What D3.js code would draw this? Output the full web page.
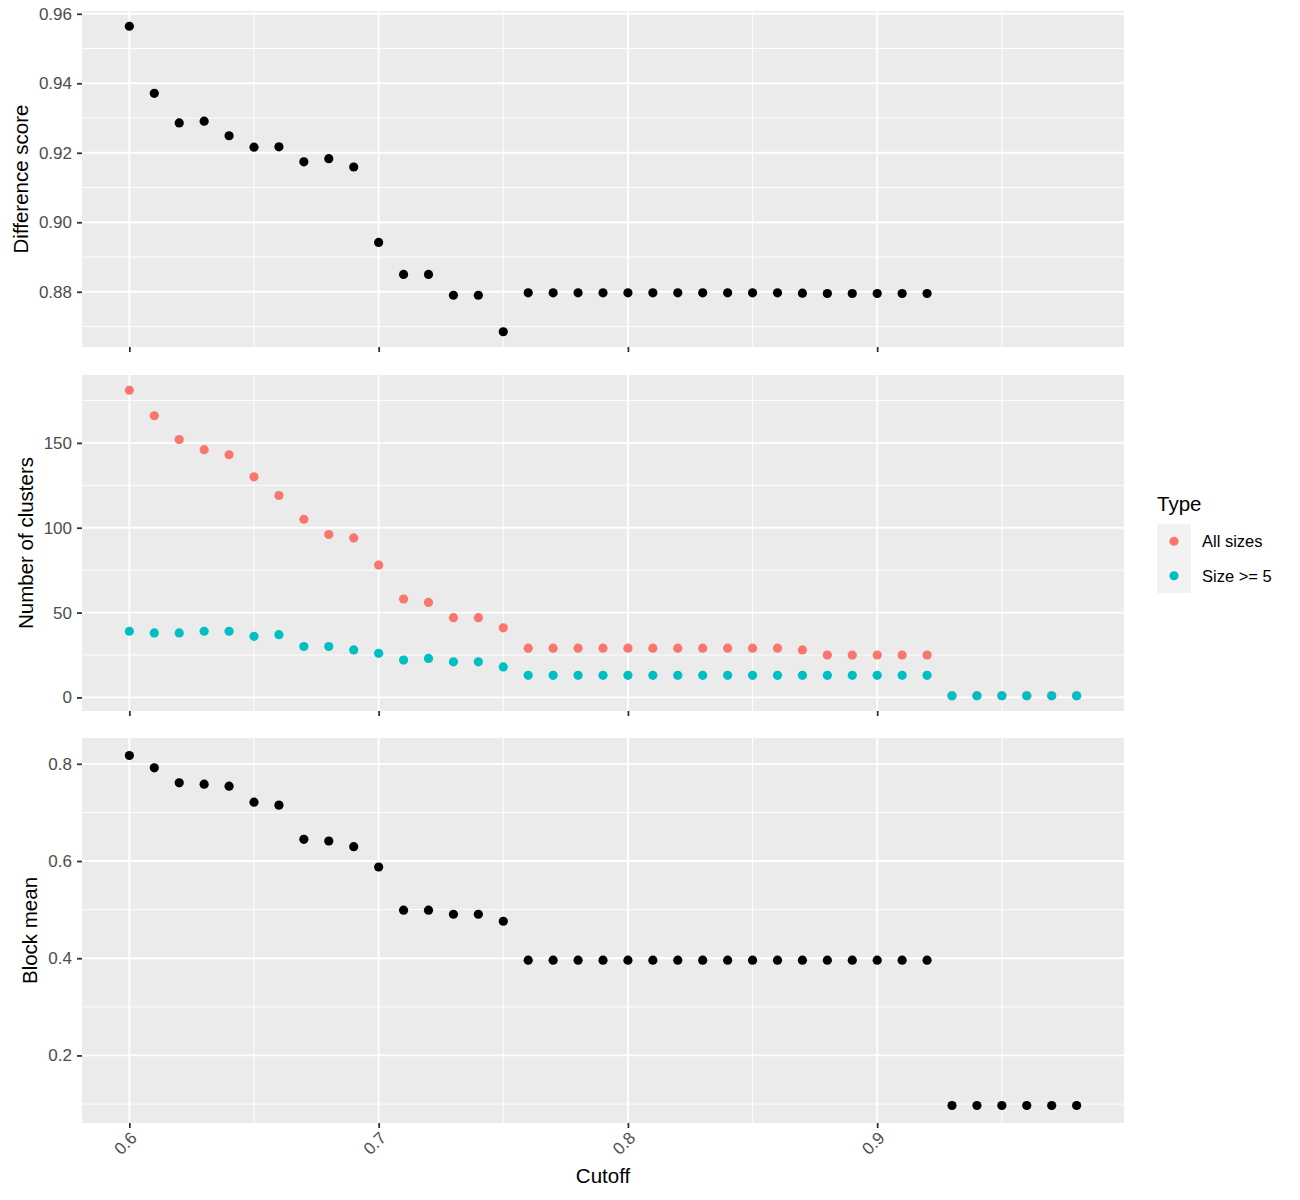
<!DOCTYPE html>
<html>
<head>
<meta charset="utf-8">
<script src="https://cdn.jsdelivr.net/npm/d3@7"></script>
<style>
  body { margin: 0; background: #fff; }
  svg { display: block; font-family: "Liberation Sans", Arial, sans-serif; }
</style>
</head>
<body>
<script>
// cutoff values (x) shared by all panels
const cutoffs = [0.60, 0.61, 0.62, 0.63, 0.64, 0.65, 0.66, 0.67, 0.68, 0.69,
  0.70, 0.71, 0.72, 0.73, 0.74, 0.75, 0.76, 0.77, 0.78, 0.79,
  0.80, 0.81, 0.82, 0.83, 0.84, 0.85, 0.86, 0.87, 0.88, 0.89,
  0.90, 0.91, 0.92, 0.93, 0.94, 0.95, 0.96, 0.97, 0.98];

// difference score only exists up to 0.92
const diffScore = [0.9564, 0.9371, 0.9286, 0.9291, 0.9249, 0.9216, 0.9217, 0.9174, 0.9183, 0.9159,
  0.8942, 0.8850, 0.8850, 0.8790, 0.8790, 0.8685, 0.8797, 0.8797, 0.8797, 0.8797,
  0.8797, 0.8797, 0.8797, 0.8797, 0.8797, 0.8797, 0.8797, 0.8796, 0.8795, 0.8795,
  0.8795, 0.8795, 0.8795];

const clustersAll = [181, 166, 152, 146, 143, 130, 119, 105, 96, 94,
  78, 58, 56, 47, 47, 41, 29, 29, 29, 29,
  29, 29, 29, 29, 29, 29, 29, 28, 25, 25,
  25, 25, 25, 1, 1, 1, 1, 1, 1];

const clustersMin5 = [39, 38, 38, 39, 39, 36, 37, 30, 30, 28,
  26, 22, 23, 21, 21, 18, 13, 13, 13, 13,
  13, 13, 13, 13, 13, 13, 13, 13, 13, 13,
  13, 13, 13, 1, 1, 1, 1, 1, 1];

const blockMean = [0.8171, 0.7918, 0.7609, 0.7582, 0.7540, 0.7211, 0.7150, 0.6446, 0.6412, 0.6295,
  0.5877, 0.4988, 0.4988, 0.4905, 0.4905, 0.4761, 0.3959, 0.3959, 0.3959, 0.3959,
  0.3959, 0.3959, 0.3959, 0.3959, 0.3959, 0.3959, 0.3959, 0.3959, 0.3959, 0.3959,
  0.3959, 0.3959, 0.3959, 0.0970, 0.0970, 0.0970, 0.0970, 0.0970, 0.0970];

const typeNames = ["All sizes", "Size >= 5"];
const typeColors = ["#F8766D", "#00BFC4"];

const xTicks = [0.6, 0.7, 0.8, 0.9];
const xMinor = [0.65, 0.75, 0.85, 0.95];
const diffTicks = [0.88, 0.90, 0.92, 0.94, 0.96];
const clusterTicks = [0, 50, 100, 150];
const blockTicks = [0.2, 0.4, 0.6, 0.8];

const W = 1300, H = 1200;
const left = 82, right = 1124;
const panels = [
  { top: 11, bottom: 347, title: "Difference score", ticks: diffTicks, fmt: d3.format(".2f"),
    series: [{ values: diffScore, color: "#000" }] },
  { top: 375, bottom: 711, title: "Number of clusters", ticks: clusterTicks, fmt: d3.format("d"),
    series: [{ values: clustersAll, color: typeColors[0] }, { values: clustersMin5, color: typeColors[1] }] },
  { top: 738, bottom: 1123, title: "Block mean", ticks: blockTicks, fmt: d3.format(".1f"),
    series: [{ values: blockMean, color: "#000" }] }
];

// ggplot style 5% expansion
const expand = ([a, b]) => { const p = (b - a) * 0.05; return [a - p, b + p]; };

const x = d3.scaleLinear().domain(expand(d3.extent(cutoffs))).range([left, right]);

const svg = d3.select("body").append("svg").attr("width", W).attr("height", H);

panels.forEach((p, i) => {
  const all = p.series.flatMap(s => s.values);
  const y = d3.scaleLinear().domain(expand(d3.extent(all))).range([p.bottom, p.top]);
  const step = p.ticks[1] - p.ticks[0];
  const minor = d3.range(p.ticks[0] - step / 2, p.ticks[p.ticks.length - 1] + step, step)
    .filter(v => v >= y.domain()[0] && v <= y.domain()[1]);

  const g = svg.append("g");
  g.append("rect").attr("x", left).attr("y", p.top)
    .attr("width", right - left).attr("height", p.bottom - p.top).attr("fill", "#EBEBEB");

  // minor grid
  g.append("g").attr("stroke", "#fff").attr("stroke-width", 0.9)
    .call(s => s.selectAll("line.hy").data(minor).join("line")
      .attr("x1", left).attr("x2", right).attr("y1", d => y(d)).attr("y2", d => y(d)))
    .call(s => s.selectAll("line.vx").data(xMinor).join("line")
      .attr("y1", p.top).attr("y2", p.bottom).attr("x1", d => x(d)).attr("x2", d => x(d)));

  // major grid
  g.append("g").attr("stroke", "#fff").attr("stroke-width", 1.8)
    .call(s => s.selectAll("line.hy").data(p.ticks).join("line")
      .attr("x1", left).attr("x2", right).attr("y1", d => y(d)).attr("y2", d => y(d)))
    .call(s => s.selectAll("line.vx").data(xTicks).join("line")
      .attr("y1", p.top).attr("y2", p.bottom).attr("x1", d => x(d)).attr("x2", d => x(d)));

  // y axis
  const ya = g.append("g").attr("transform", `translate(${left},0)`)
    .call(d3.axisLeft(y).tickValues(p.ticks).tickFormat(p.fmt).tickSize(5).tickPadding(5));
  ya.select(".domain").remove();
  ya.selectAll(".tick line").attr("stroke", "#333").attr("stroke-width", 1.8);
  ya.selectAll(".tick text").attr("fill", "#4D4D4D").attr("font-size", 17)
    .attr("font-family", "Liberation Sans, Arial, sans-serif");

  let maxW = 0;
  ya.selectAll(".tick text").each(function () { maxW = Math.max(maxW, this.getComputedTextLength()); });

  g.append("text")
    .attr("transform", `translate(${left - 10 - maxW - 11},${(p.top + p.bottom) / 2}) rotate(-90)`)
    .attr("text-anchor", "middle").attr("font-size", 20.5).attr("fill", "#000")
    .text(p.title);

  // x axis
  const xa = g.append("g").attr("transform", `translate(0,${p.bottom})`)
    .call(d3.axisBottom(x).tickValues(xTicks).tickFormat(d3.format(".1f")).tickSize(5));
  xa.select(".domain").remove();
  xa.selectAll(".tick line").attr("stroke", "#333").attr("stroke-width", 1.8);
  if (i < panels.length - 1) {
    xa.selectAll(".tick text").remove();
  } else {
    xa.selectAll(".tick text")
      .attr("fill", "#4D4D4D").attr("font-size", 17)
      .attr("font-family", "Liberation Sans, Arial, sans-serif")
      .attr("text-anchor", "end").attr("dy", null).attr("y", null)
      .attr("transform", "translate(8,16) rotate(-45)");
  }

  // points
  p.series.forEach(s => {
    g.append("g").attr("fill", s.color)
      .selectAll("circle")
      .data(s.values.map((v, k) => [cutoffs[k], v]))
      .join("circle")
      .attr("cx", d => x(d[0])).attr("cy", d => y(d[1])).attr("r", 4.6);
  });

  if (i === panels.length - 1) {
    svg.append("text").attr("x", (left + right) / 2).attr("y", 1183)
      .attr("text-anchor", "middle").attr("font-size", 20.5).attr("fill", "#000")
      .text("Cutoff");
  }

  // legend beside the middle panel
  if (i === 1) {
    const lg = svg.append("g").attr("transform", "translate(1157,0)");
    lg.append("text").attr("x", 0).attr("y", 511).attr("font-size", 20.5).attr("fill", "#000").text("Type");
    const key = 34.5, ky0 = 524;
    typeNames.forEach((name, k) => {
      lg.append("rect").attr("x", 0).attr("y", ky0 + k * key).attr("width", 34).attr("height", key)
        .attr("fill", "#F2F2F2");
      lg.append("circle").attr("cx", 17).attr("cy", ky0 + k * key + key / 2).attr("r", 4.6)
        .attr("fill", typeColors[k]);
      lg.append("text").attr("x", 45).attr("y", ky0 + k * key + key / 2).attr("dy", "0.35em")
        .attr("font-size", 16.5).attr("fill", "#000").text(name);
    });
  }
});
</script>
</body>
</html>
